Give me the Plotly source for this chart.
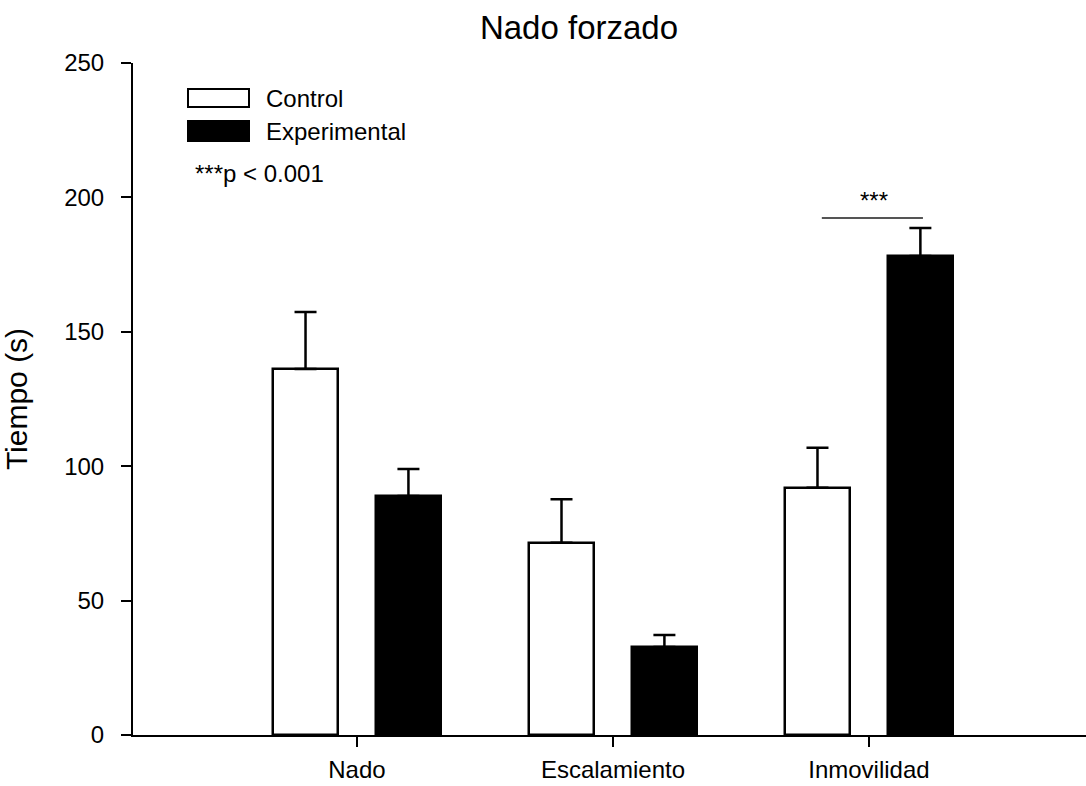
import plotly.graph_objects as go

categories = ["Nado", "Escalamiento", "Inmovilidad"]
control_mean = [136.2, 71.5, 92.0]
control_err = [21.2, 16.2, 14.9]
exp_mean = [88.9, 32.7, 178.2]
exp_err = [10.1, 4.5, 10.4]
series_names = ["Control", "Experimental"]
sig_label = "***"
p_note = "***p < 0.001"

FONT = "Arial, 'Liberation Sans', sans-serif"
xpos = list(range(len(categories)))
BW = 0.254

fig = go.Figure()
fig.add_trace(go.Bar(
    x=xpos, y=control_mean, name=series_names[0], width=BW, offset=-0.328,
    marker=dict(color="white", line=dict(color="black", width=2.5)),
    error_y=dict(type="data", array=control_err, arrayminus=[0]*3, symmetric=False,
                 color="black", thickness=2.5, width=11),
    showlegend=False,
))
fig.add_trace(go.Bar(
    x=xpos, y=exp_mean, name=series_names[1], width=BW, offset=0.074,
    marker=dict(color="black", line=dict(color="black", width=2.5)),
    error_y=dict(type="data", array=exp_err, arrayminus=[0]*3, symmetric=False,
                 color="black", thickness=2.5, width=11),
    showlegend=False,
))

L, T, W, H = 133, 63, 953, 672
def px(x):
    return (x - L) / W
def py(y):
    return (T + H - y) / H

shapes = [
    # legend swatches
    dict(type="rect", xref="paper", yref="paper", x0=px(188), x1=px(249), y0=py(107), y1=py(89),
         fillcolor="white", line=dict(color="black", width=2)),
    dict(type="rect", xref="paper", yref="paper", x0=px(188), x1=px(249), y0=py(141), y1=py(121),
         fillcolor="black", line=dict(color="black", width=2)),
    # significance line
    dict(type="line", xref="x", yref="y", x0=2 - 0.184, x1=2 + 0.211, y0=192.3, y1=192.3,
         line=dict(color="#555555", width=2)),
]

annotations = [
    dict(text=series_names[0], xref="paper", yref="paper", x=px(264), y=py(98),
         xanchor="left", yanchor="middle", showarrow=False, font=dict(size=24, color="black", family=FONT)),
    dict(text=series_names[1], xref="paper", yref="paper", x=px(264), y=py(131),
         xanchor="left", yanchor="middle", showarrow=False, font=dict(size=24, color="black", family=FONT)),
    dict(text=p_note, xref="paper", yref="paper", x=px(193), y=py(174),
         xanchor="left", yanchor="middle", showarrow=False, font=dict(size=24, color="black", family=FONT)),
    dict(text=sig_label, xref="x", yref="y", x=2.02, y=199,
         xanchor="center", yanchor="middle", showarrow=False, font=dict(size=24, color="black", family=FONT)),
]

fig.update_layout(
    width=1086, height=786,
    margin=dict(l=L, r=0, t=T, b=786 - T - H, autoexpand=False),
    paper_bgcolor="white", plot_bgcolor="white",
    font=dict(family=FONT, size=24, color="black"),
    title=dict(text="Nado forzado", x=579 / 1086, xref="container", xanchor="center",
               y=1 - 27 / 786, yref="container", yanchor="middle",
               font=dict(size=33, color="black", family=FONT)),
    shapes=shapes, annotations=annotations,
    bargap=0,
)
fig.update_xaxes(
    range=[-0.875, 2.848], tickvals=xpos, ticktext=categories,
    showline=True, linecolor="black", linewidth=2, mirror=False,
    ticks="outside", ticklen=10, tickwidth=2, tickcolor="black",
    showgrid=False, zeroline=False, ticklabelstandoff=2,
    tickfont=dict(size=24, family=FONT, color="black"),
)
fig.update_yaxes(
    range=[0, 250], tick0=0, dtick=50,
    showline=True, linecolor="black", linewidth=2,
    ticks="outside", ticklen=10, tickwidth=2, tickcolor="black",
    showgrid=False, zeroline=False, ticklabelstandoff=12,
    tickfont=dict(size=24, family=FONT, color="black"),
    title=dict(text="Tiempo (s)", font=dict(size=30, family=FONT, color="black"), standoff=30),
)

fig.write_html("out.html")
